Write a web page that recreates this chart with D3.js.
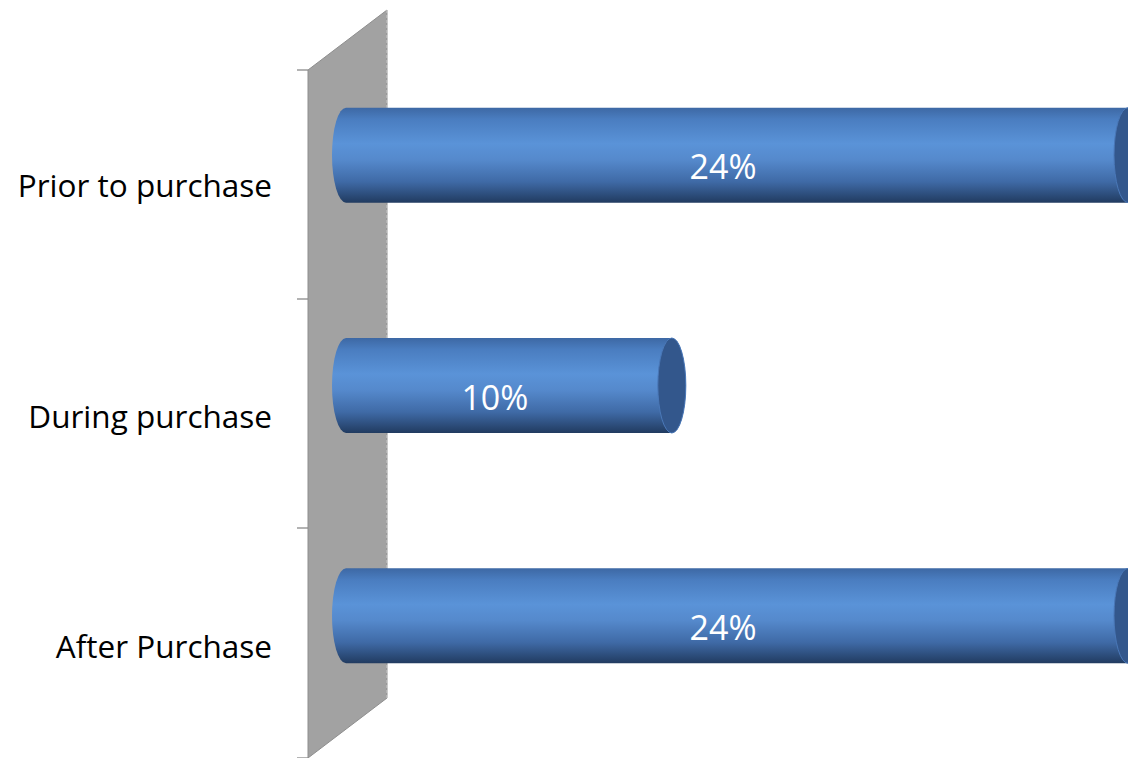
<!DOCTYPE html>
<html>
<head>
<meta charset="utf-8">
<script src="https://cdn.jsdelivr.net/npm/d3@7"></script>
<style>
  html, body { margin: 0; padding: 0; background: #fff; }
  svg { display: block; }
</style>
</head>
<body>
<svg id="chart" width="1128" height="758"></svg>
<script>
const categories = ["Prior to purchase", "During purchase", "After Purchase"];
const values = [0.24, 0.10, 0.24];
const valueLabels = ["24%", "10%", "24%"];

const W = 1128, H = 758;
const svg = d3.select("#chart");

// 3D geometry
const frontX = 308, depthDx = 79, depthDy = -60;
const plotTop = 70, plotBottom = 761;

const y = d3.scaleBand().domain(categories).range([plotTop, plotBottom]).padding(0);
const x = d3.scaleLinear().domain([0, 0.24]).range([346, 1128]);

const defs = svg.append("defs");
const grad = defs.append("linearGradient").attr("id", "cyl").attr("x1", 0).attr("y1", 0).attr("x2", 0).attr("y2", 1);
[[0, "#3d68a4"], [0.12, "#4a7dc0"], [0.38, "#5a93d8"], [0.55, "#5589cc"], [0.78, "#3f6aa6"], [1, "#213b60"]]
  .forEach(([o, c]) => grad.append("stop").attr("offset", o).attr("stop-color", c));

// wall
const wallBottom = 758;
const wall = [[frontX, plotTop], [frontX + depthDx, plotTop + depthDy], [frontX + depthDx, wallBottom + depthDy], [frontX, wallBottom]];
svg.append("path").attr("d", d3.line()(wall) + "Z").attr("fill", "#a2a2a2").attr("stroke", "#8e8e8e").attr("stroke-width", 1);
svg.append("line").attr("x1", frontX + depthDx).attr("x2", frontX + depthDx)
  .attr("y1", plotTop + depthDy).attr("y2", wallBottom + depthDy)
  .attr("stroke", "#d0d0d0").attr("stroke-dasharray", "3,2");

// ticks
const tickYs = [70, 299, 528, 758];
svg.selectAll(".tick").data(tickYs).enter().append("line")
  .attr("x1", frontX - 11).attr("x2", frontX).attr("y1", d => d).attr("y2", d => d)
  .attr("stroke", "#8a8a8a").attr("stroke-width", 1.3);

// category labels
svg.selectAll(".cat").data(categories).enter().append("text")
  .attr("x", 272).attr("y", d => y(d) + y.bandwidth() / 2 + 12)
  .attr("text-anchor", "end")
  .attr("font-family", "Open Sans, sans-serif").attr("font-size", 31.5)
  .attr("fill", "#000").text(d => d);

// bars (cylinders)
const rx = 14, ry = 47.5;
const bars = svg.selectAll(".bar").data(categories.map((c, i) => ({ c, v: values[i], l: valueLabels[i] })))
  .enter().append("g");

bars.append("path").attr("fill", "url(#cyl)").attr("d", d => {
  const yc = y(d.c) + y.bandwidth() / 2 + depthDy / 2;
  const x0 = x(0), x1 = x(d.v);
  const t = yc - ry, b = yc + ry;
  return `M${x0},${t} L${x1},${t} A${rx},${ry} 0 0 1 ${x1},${b} L${x0},${b} A${rx},${ry} 0 0 1 ${x0},${t} Z`;
});
bars.append("ellipse").attr("cx", d => x(d.v)).attr("cy", d => y(d.c) + y.bandwidth() / 2 + depthDy / 2)
  .attr("rx", rx).attr("ry", ry).attr("fill", "#33578c").attr("stroke", "#4a78b8").attr("stroke-width", 1);

bars.append("text")
  .attr("x", d => (x(0) + x(d.v)) / 2 - rx)
  .attr("y", d => y(d.c) + y.bandwidth() / 2 + depthDy / 2 + 24)
  .attr("text-anchor", "middle")
  .attr("font-family", "Open Sans, sans-serif").attr("font-size", 34)
  .attr("fill", "#fff").text(d => d.l);
</script>
</body>
</html>
